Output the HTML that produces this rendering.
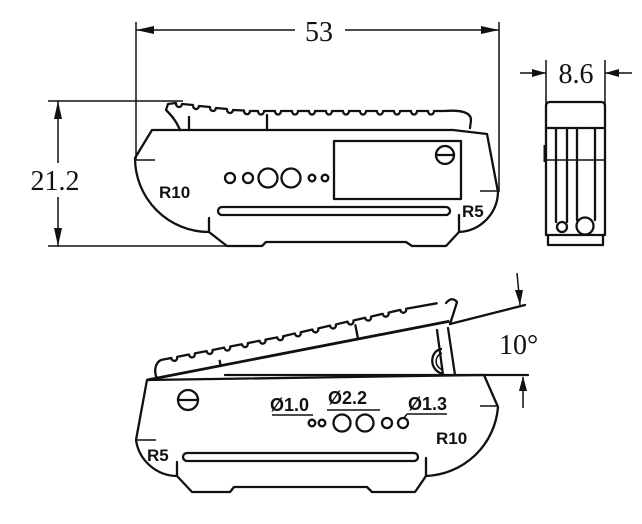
<!DOCTYPE html>
<html><head><meta charset="utf-8"><style>
html,body{margin:0;padding:0;background:#fff;}
svg{display:block;}
.s{fill:none;stroke:#111;stroke-width:2.3;stroke-linejoin:round;stroke-linecap:round;}
.t{fill:none;stroke:#111;stroke-width:1.5;}
.n{font-family:"Liberation Serif",serif;font-size:28px;fill:#111;}
.b{font-family:"Liberation Sans",sans-serif;font-weight:bold;font-size:17px;fill:#111;}
.d{font-family:"Liberation Sans",sans-serif;font-weight:bold;font-size:18px;fill:#111;}
</style></head><body>
<svg width="642" height="524" viewBox="0 0 642 524" xmlns="http://www.w3.org/2000/svg">
<!-- Dim 53 -->
<line class="t" x1="136" y1="22" x2="136" y2="160"/>
<line class="t" x1="499" y1="22" x2="499" y2="192"/>
<line class="t" x1="136" y1="30" x2="295" y2="30"/>
<line class="t" x1="345" y1="30" x2="499" y2="30"/>
<polygon points="136,30 154,26 154,34" fill="#111"/>
<polygon points="499,30 481,26 481,34" fill="#111"/>
<text class="n" x="319" y="41" text-anchor="middle">53</text>
<!-- Dim 21.2 -->
<line class="t" x1="48" y1="101" x2="183" y2="101"/>
<line class="t" x1="48" y1="246" x2="228" y2="246"/>
<line class="t" x1="58" y1="101" x2="58" y2="163"/>
<line class="t" x1="58" y1="197" x2="58" y2="246"/>
<polygon points="58,101 54,119 62,119" fill="#111"/>
<polygon points="58,246 54,228 62,228" fill="#111"/>
<text class="n" x="55" y="190" text-anchor="middle">21.2</text>

<!-- Top view body -->
<path class="s" d="M152,130 L453,130 L487,134 L498,192 A41,41 0 0 1 459,232 L446,246 L412,246 L406,242 L266,242 L262,246 L227,246 L209,232 A74,74 0 0 1 135,158 Z"/>
<line class="s" x1="209" y1="218" x2="209" y2="232"/>
<line class="s" x1="459" y1="215" x2="459" y2="232"/>
<line class="t" x1="135" y1="160" x2="155" y2="160"/>
<line class="t" x1="480" y1="191" x2="499" y2="191"/>
<rect class="s" x="218" y="207" width="232" height="8" rx="4"/>
<circle class="s" cx="230" cy="178" r="5"/>
<circle class="s" cx="248" cy="178" r="5"/>
<circle class="s" cx="268" cy="178" r="9.5"/>
<circle class="s" cx="291" cy="178" r="9.5"/>
<circle class="s" cx="312" cy="178" r="3.3"/>
<circle class="s" cx="325" cy="178" r="3.3"/>
<rect class="s" x="334" y="141" width="127" height="58"/>
<circle class="s" cx="445" cy="155" r="9"/>
<line class="s" x1="436" y1="155" x2="454" y2="155"/>
<text class="b" x="159" y="198">R10</text>
<text class="b" x="462" y="217">R5</text>
<!-- Top pedal -->
<path class="s" d="M180,130 C176,120 170,114 166,110 L168,104 L176,103 a3,3.5 0 0 0 6,1 l11,1 a3,3.5 0 0 0 6,1 l11,1 a3,3.5 0 0 0 6,1 l11,1 a3,3.5 0 0 0 6,1 l11,0.5 a3,3.5 0 0 0 6,0.5 l8,0 a3,3.5 0 0 0 6,0 h11 a3,3.5 0 0 0 6,0 h11 a3,3.5 0 0 0 6,0 h11 a3,3.5 0 0 0 6,0 h11 a3,3.5 0 0 0 6,0 h11 a3,3.5 0 0 0 6,0 h11 a3,3.5 0 0 0 6,0 h11 a3,3.5 0 0 0 6,0 h11 a3,3.5 0 0 0 6,0 h11 a3,3.5 0 0 0 6,0 h11 a3,3.5 0 0 0 6,0 h10 Q471,109 471,120 L470,128"/>
<line class="s" x1="189" y1="117" x2="189" y2="130"/>
<line class="s" x1="267" y1="115" x2="267" y2="130"/>

<!-- Side view 8.6 -->
<line class="t" x1="546" y1="60" x2="546" y2="104"/>
<line class="t" x1="605" y1="60" x2="605" y2="104"/>
<line class="t" x1="520" y1="73" x2="546" y2="73"/>
<line class="t" x1="605" y1="73" x2="632" y2="73"/>
<polygon points="546,73 532,69 532,77" fill="#111"/>
<polygon points="605,73 619,69 619,77" fill="#111"/>
<text class="n" x="576" y="83" text-anchor="middle">8.6</text>
<path class="s" d="M546,128 L546,106 Q546,102 550,102 L601,102 Q605,102 605,106 L605,128 Z"/>
<path class="s" d="M546,128 L546,235 L605,235 L605,128"/>
<path class="s" d="M548,235 L548,245 L603,245 L603,235"/>
<line class="s" x1="556" y1="128" x2="556" y2="222"/>
<line class="s" x1="567" y1="128" x2="567" y2="222"/>
<line class="s" x1="577" y1="128" x2="577" y2="220"/>
<line class="s" x1="595" y1="128" x2="595" y2="220"/>
<line class="t" x1="546" y1="160" x2="605" y2="160"/>
<line x1="545" y1="145" x2="545" y2="162" stroke="#111" stroke-width="3"/>
<circle class="s" cx="562" cy="227" r="5"/>
<circle class="s" cx="585" cy="226" r="8.5"/>

<!-- Bottom view body -->
<path class="s" d="M147,380 L484,375 L498,407 A75,75 0 0 1 426,476 L415,492 L372,492 L367,487 L234,487 L230,492 L192,492 L177,476 A42,42 0 0 1 136,440 Z"/>
<line class="s" x1="225" y1="375" x2="528" y2="375"/>
<line class="s" x1="177" y1="462" x2="177" y2="476"/>
<line class="s" x1="426" y1="458" x2="426" y2="476"/>
<line class="t" x1="137" y1="440" x2="156" y2="440"/>
<line class="t" x1="480" y1="406" x2="498" y2="406"/>
<rect class="s" x="183" y="453" width="235" height="8" rx="4"/>
<circle class="s" cx="188" cy="400" r="10"/>
<line class="s" x1="178" y1="400" x2="198" y2="400"/>
<circle class="s" cx="312" cy="423" r="3.3"/>
<circle class="s" cx="322" cy="423" r="3.3"/>
<circle class="s" cx="342" cy="423" r="8.5"/>
<circle class="s" cx="365" cy="423" r="8.5"/>
<circle class="s" cx="387" cy="423" r="5"/>
<circle class="s" cx="403" cy="423" r="5"/>
<text class="d" x="270" y="411">Ø1.0</text>
<line class="t" x1="272" y1="415" x2="313" y2="415"/>
<text class="d" x="328" y="404">Ø2.2</text>
<line class="t" x1="327" y1="410" x2="380" y2="410"/>
<text class="d" x="408" y="410">Ø1.3</text>
<line class="t" x1="407" y1="414" x2="447" y2="414"/>
<line class="t" x1="407" y1="414" x2="404" y2="418"/>
<text class="b" x="436" y="444">R10</text>
<text class="b" x="147" y="461">R5</text>
<!-- Pedal tilted -->
<g transform="translate(147,380) rotate(-11)">
<line x1="0" y1="0" x2="308" y2="0" stroke="#111" stroke-width="2.8"/>
<path class="s" d="M10,0 C8,-8 12,-16 18,-17 h10 a3,3.5 0 0 0 6,0 h12 a3,3.5 0 0 0 6,0 h12 a3,3.5 0 0 0 6,0 h12 a3,3.5 0 0 0 6,0 h12 a3,3.5 0 0 0 6,0 h12 a3,3.5 0 0 0 6,0 h12 a3,3.5 0 0 0 6,0 l12,-0.5 a3,3.5 0 0 0 6,0 l12,-0.5 a3,3.5 0 0 0 6,0 l12,-0.5 a3,3.5 0 0 0 6,0 l12,-0.5 a3,3.5 0 0 0 6,0 l12,-0.5 a3,3.5 0 0 0 6,0 l12,-0.5 a3,3.5 0 0 0 6,0 l12,-0.5 a3,3.5 0 0 0 6,0 L299,-20"/>
<line class="s" x1="75" y1="0" x2="75" y2="-5"/>
<line class="s" x1="215" y1="0" x2="215" y2="-14"/>
</g>
<path class="s" d="M446,303 Q452,296 457,302 Q454,312 450,324"/>
<line class="s" x1="450" y1="324" x2="525" y2="305"/>
<line class="s" x1="437" y1="330" x2="443" y2="375"/>
<line class="s" x1="448" y1="328" x2="455" y2="375"/>
<path class="s" d="M441,349 C430,351 428,370 443,374"/>
<path class="t" d="M442,353 C434,356 434,367 443,370"/>
<!-- 10 deg -->
<line class="t" x1="517" y1="273" x2="520" y2="305"/>
<polygon points="520,305 515,290 523,290" fill="#111"/>
<line class="t" x1="523" y1="408" x2="523" y2="377"/>
<polygon points="523,376 519,391 527,391" fill="#111"/>
<text class="n" x="499" y="354">10°</text>
</svg>
</body></html>
